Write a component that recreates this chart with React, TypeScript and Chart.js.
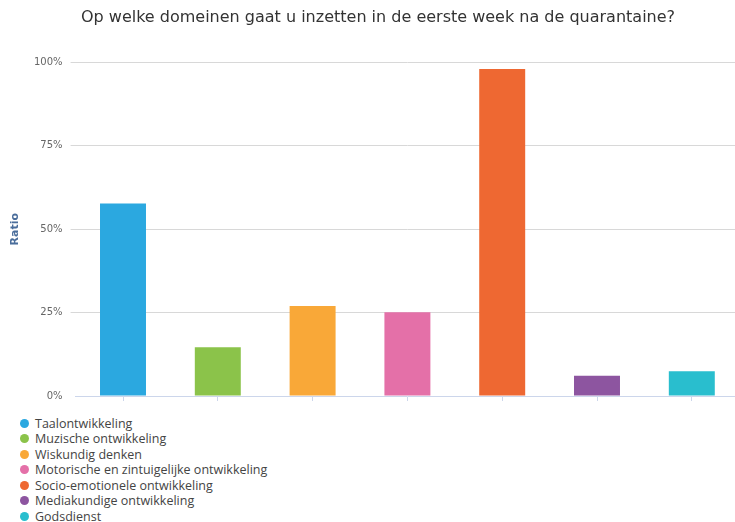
import { useEffect, useRef } from 'react';
import { Chart, registerables } from 'chart.js';

Chart.register(...registerables);

const chartTitle = 'Op welke domeinen gaat u inzetten in de eerste week na de quarantaine?';
const yAxisTitle = 'Ratio';
const categories = [
  'Taalontwikkeling',
  'Muzische ontwikkeling',
  'Wiskundig denken',
  'Motorische en zintuigelijke ontwikkeling',
  'Socio-emotionele ontwikkeling',
  'Mediakundige ontwikkeling',
  'Godsdienst',
];
const values = [0.577, 0.146, 0.27, 0.251, 0.98, 0.061, 0.074];
const colors = ['#2ba8e0', '#8bc34a', '#f9a838', '#e470a8', '#ee6832', '#8d55a0', '#29bece'];
const yTicks = [0, 0.25, 0.5, 0.75, 1];

export default function App() {
  const canvasRef = useRef<HTMLCanvasElement | null>(null);

  useEffect(() => {
    const canvas = canvasRef.current;
    if (!canvas) return;
    const chart = new Chart(canvas, {
      type: 'bar',
      data: {
        labels: categories,
        datasets: [
          {
            label: yAxisTitle,
            data: values,
            backgroundColor: colors,
            borderWidth: 0,
            categoryPercentage: 1,
            barPercentage: 0.485,
          },
        ],
      },
      options: {
        responsive: false,
        animation: false,
        layout: { padding: { left: 16.8, right: 16.8, top: 0, bottom: 1.4 } },
        plugins: {
          legend: { display: false },
          tooltip: { enabled: false },
          title: {
            display: true,
            text: chartTitle,
            color: '#333333',
            font: { family: 'DejaVu Sans', size: 16, weight: 'normal' },
            padding: { top: 8.4, bottom: 34.7 },
          },
        },
        scales: {
          x: {
            offset: true,
            grid: {
              display: true,
              drawOnChartArea: false,
              drawTicks: true,
              tickLength: 5,
              color: '#ccd6eb',
              offset: false,
            },
            border: { display: true, color: '#ccd6eb', width: 1 },
            ticks: { display: false },
          },
          y: {
            min: 0,
            max: 1,
            afterBuildTicks: (scale: any) => {
              scale.ticks = yTicks.map((v) => ({ value: v }));
            },
            afterFit: (scale: any) => {
              scale.width = 58.8;
            },
            grid: {
              color: (ctx: any) => (ctx.tick && ctx.tick.value === 0 ? 'rgba(0,0,0,0)' : '#d8d8d8'),
              tickLength: 5,
              drawTicks: true,
            },
            border: { display: false },
            ticks: {
              padding: 8,
              color: '#666666',
              font: { family: 'DejaVu Sans', size: 10 },
              callback: (v: any) => Math.round(Number(v) * 100) + '%',
            },
            title: {
              display: true,
              text: yAxisTitle,
              color: '#4a6d9b',
              font: { family: 'DejaVu Sans', size: 11, weight: 'bold' },
              padding: { top: -7.8, bottom: 0 },
            },
          },
        },
      },
    });
    return () => chart.destroy();
  }, []);

  return (
    <div
      style={{
        position: 'fixed',
        left: 0,
        top: 0,
        width: 735,
        height: 522,
        overflow: 'hidden',
        background: '#ffffff',
      }}
    >
      <canvas
        ref={canvasRef}
        width={756}
        height={410}
        style={{ position: 'absolute', left: 0, top: 0, width: 756, height: 410 }}
      />
      <div style={{ position: 'absolute', left: 0, top: 415.5 }}>
        {categories.map((c, i) => (
          <div
            key={c}
            style={{
              display: 'flex',
              alignItems: 'center',
              height: 15.5,
              fontFamily: "'Open Sans', sans-serif",
              fontSize: 12.5,
              color: '#444444',
              whiteSpace: 'nowrap',
            }}
          >
            <span
              style={{
                display: 'inline-block',
                width: 9,
                height: 9,
                borderRadius: '50%',
                background: colors[i],
                marginLeft: 19.5,
                marginRight: 6.5,
              }}
            />
            <span>{c}</span>
          </div>
        ))}
      </div>
    </div>
  );
}
